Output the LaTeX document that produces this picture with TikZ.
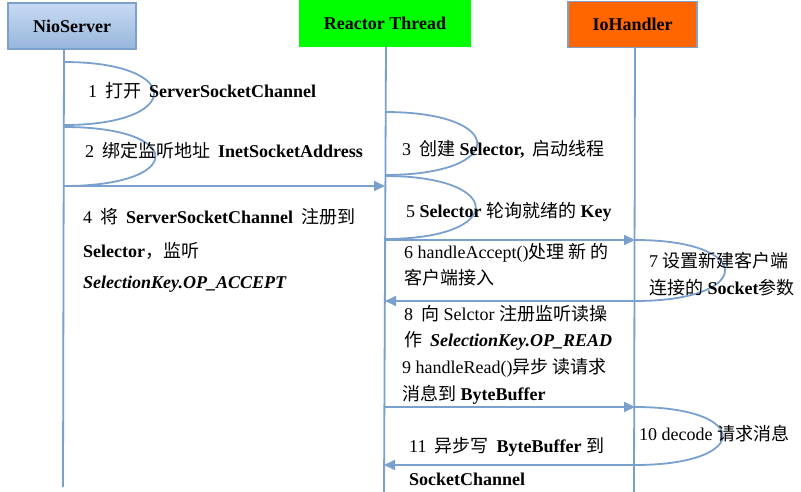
\documentclass[tikz,border=0pt]{standalone}
\usepackage{fontspec}
\setmainfont{Liberation Serif}
\newfontfamily\cjk{Noto Sans CJK SC}
\usetikzlibrary{arrows.meta}
\newcommand\zh[1]{{\cjk #1}}
\newcommand\gp{\hspace{8pt}}
\definecolor{lineblue}{RGB}{122,160,206}
\definecolor{hdrborder}{RGB}{126,160,204}
\definecolor{hdrtop}{RGB}{200,218,242}
\definecolor{hdrbot}{RGB}{150,182,220}
\definecolor{rtgreen}{RGB}{0,255,0}
\definecolor{ioorange}{RGB}{255,102,0}
\begin{document}
\begin{tikzpicture}[x=1pt,y=-1pt,
  every node/.style={font=\fontsize{18}{20}\selectfont, inner sep=0pt},
  txt/.style={anchor=base west},
  lifeline/.style={draw=lineblue, line width=1.8pt},
  selfloop/.style={draw=lineblue, line width=1.8pt},
  msg/.style={draw=lineblue, line width=1.8pt, -{Triangle[length=11pt,width=10pt]}},
  hdr/.style={minimum height=46pt, font=\fontsize{18}{20}\selectfont\bfseries}
]
\useasboundingbox (0,0) rectangle (801,492);

% headers
\node[hdr, draw=hdrborder, line width=1.8pt, top color=hdrtop, bottom color=hdrbot,
      minimum width=128pt] (ns) at (72,26) {NioServer};
\node[hdr, fill=rtgreen, minimum width=172pt, minimum height=47pt] (rt) at (385,23.5) {Reactor Thread};
\node[hdr, draw=hdrborder, line width=1.8pt, fill=ioorange, minimum width=129pt] (io) at (632.5,24.5) {IoHandler};

% lifelines
\coordinate (nsT) at (64,49);   \coordinate (nsB) at (63,487);
\coordinate (rtT) at (386,47);  \coordinate (rtB) at (384,492);
\coordinate (ioT) at (635,48);  \coordinate (ioB) at (634,492);
\draw[lifeline] (nsT) -- (nsB);
\draw[lifeline] (rtT) -- (rtB);
\draw[lifeline] (ioT) -- (ioB);

% points on lifelines
\coordinate (n62) at (64,62);   \coordinate (n125) at (64,125);
\coordinate (n127) at (64,127); \coordinate (n185) at (64,186);
\coordinate (r186) at (385,186);
\coordinate (r112) at (385,112); \coordinate (r175) at (385,175);
\coordinate (r176) at (385,176); \coordinate (r239) at (385,239);
\coordinate (r240) at (385,240); \coordinate (i240) at (635,240);
\coordinate (i301) at (635,301); \coordinate (r301) at (385,301);
\coordinate (r407) at (385,407); \coordinate (i407) at (635,407);
\coordinate (i465) at (635,465); \coordinate (r465) at (384,465);

% self loops
\draw[selfloop] (n62) .. controls +(120,0) and +(120,0) .. (n125);
\draw[selfloop] (n127) .. controls +(122,0) and +(122,0) .. (n185);
\draw[selfloop] (r112) .. controls +(123,0) and +(123,0) .. (r175);
\draw[selfloop] (r176) .. controls +(121,0) and +(121,0) .. (r239);
\draw[selfloop] (i240) .. controls +(120,0) and +(120,0) .. (i301);
\draw[selfloop] (i407) .. controls +(117,0) and +(117,0) .. (i465);

% messages
\draw[msg] (n185) -- (r186);
\draw[msg] (r240) -- (i240);
\draw[msg] (i301) -- (r301);
\draw[msg] (r407) -- (i407);
\draw[msg] (i465) -- (r465);

% texts
\node[txt] (t1) at (88,98) {1\gp\zh{打开}\gp\textbf{ServerSocketChannel}};
\node[txt] (t2) at (85,158) {2\gp\zh{绑定监听地址}\gp\textbf{InetSocketAddress}};
\node[txt] (t3) at (402,156) {3\gp\zh{创建} \textbf{Selector,}\gp\zh{启动线程}};
\node[txt] (t4a) at (83,223) {4\gp\zh{将}\gp\textbf{ServerSocketChannel}\gp\zh{注册到}};
\node[txt] (t4b) at (83,257) {\textbf{Selector}\zh{，监听}};
\node[txt] (t4c) at (83,288) {\textbf{\textit{SelectionKey.OP\_ACCEPT}}};
\node[txt] (t5) at (406,218) {5 \textbf{Selector} \zh{轮询就绪的} \textbf{Key}};
\node[txt] (t6a) at (404,258) {6 handleAccept()\zh{处理 新 的}};
\node[txt] (t6b) at (404,284) {\zh{客户端接入}};
\node[txt] (t7a) at (649,267) {7 \zh{设置新建客户端}};
\node[txt] (t7b) at (649,294) {\zh{连接的} \textbf{Socket}\zh{参数}};
\node[txt] (t8a) at (404,320) {8\gp\zh{向} Selctor \zh{注册监听读操}};
\node[txt] (t8b) at (404,346) {\zh{作}\gp\textbf{\textit{SelectionKey.OP\_READ}}};
\node[txt] (t9a) at (402,373) {9 handleRead()\zh{异步 读请求}};
\node[txt] (t9b) at (402,400) {\zh{消息到} \textbf{ByteBuffer}};
\node[txt] (t10) at (639,440) {10 decode \zh{请求消息}};
\node[txt] (t11a) at (409,452) {11\gp\zh{异步写}\gp\textbf{ByteBuffer} \zh{到}};
\node[txt] (t11b) at (409,485) {\textbf{SocketChannel}};
\end{tikzpicture}
\end{document}
